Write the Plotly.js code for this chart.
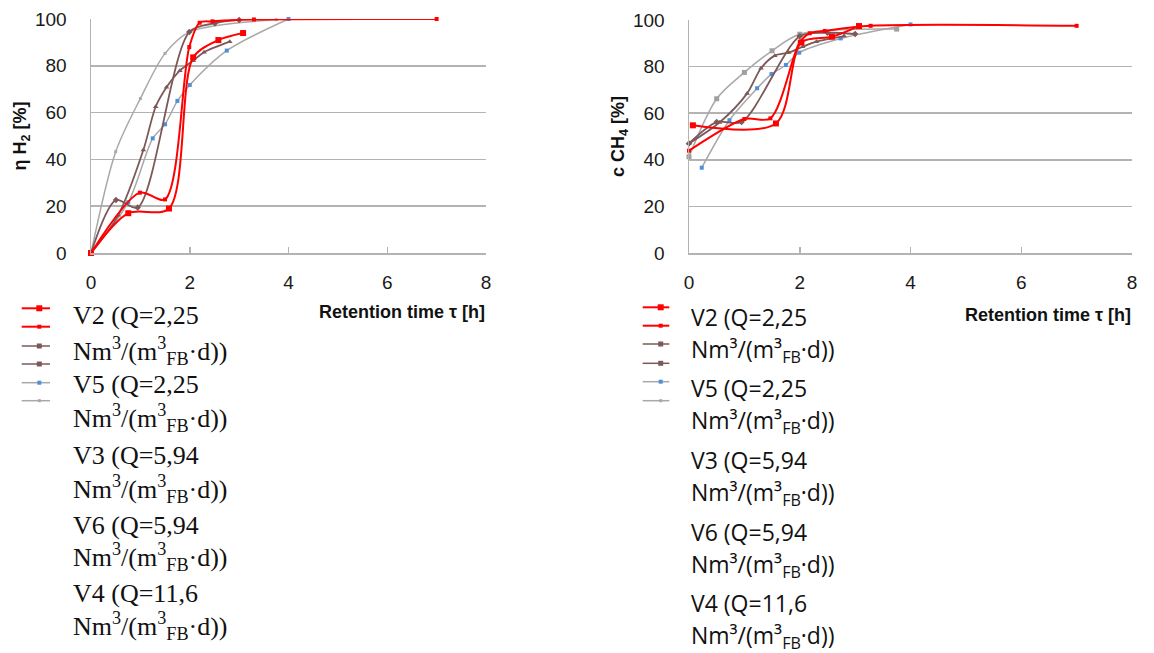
<!DOCTYPE html>
<html><head><meta charset="utf-8">
<script src="https://cdn.plot.ly/plotly-3.0.1.min.js"></script>
<style>html,body{margin:0;padding:0;background:#fff}#chart{width:1154px;height:653px}</style>
</head><body><div id="chart"></div>
<script>
// ---------- Left chart: η H2 [%] ----------
const h2RedSqT   = [0, 0.755, 1.58, 2.07, 2.58, 3.08];
const h2RedSqV   = [0, 17, 19, 83.6, 91, 94];
const h2RedT     = [0, 0.99, 1.5, 1.99, 2.2, 2.46, 3.3, 7];
const h2RedV     = [0, 25.8, 22.9, 88, 98.4, 99, 99.8, 100];
const h2Brown1T  = [0, 0.55, 1.06, 1.31, 1.53, 1.8, 2.07, 2.29, 2.81];
const h2Brown1V  = [0, 16.1, 44, 62.5, 70.8, 77.9, 82.2, 85.8, 90.3];
const h2Brown2T  = [0, 0.506, 0.945, 1.99, 2.51, 3.0];
const h2Brown2V  = [0, 22.6, 19.4, 94.4, 98.2, 99.6];
const h2BlueT    = [0, 0.755, 1.25, 1.5, 1.75, 2.0, 2.75, 4.0];
const h2BlueV    = [0, 21.7, 49, 55, 65, 71.8, 86.5, 100];
const h2GrayT    = [0, 0.5, 1.0, 1.5, 2.0, 3.75];
const h2GrayV    = [0, 43.3, 66, 85.3, 94.5, 99.7];

// ---------- Right chart: c CH4 [%] ----------
const chRedSqT   = [0.07, 1.57, 2.03, 2.58, 3.07];
const chRedSqV   = [54.8, 55.6, 90.4, 92.8, 97.4];
const chRedT     = [0, 1.0, 1.47, 2.0, 2.18, 2.45, 3.28, 7];
const chRedV     = [43.9, 57.5, 57.8, 90.5, 94.3, 95.3, 97.5, 97.5];
const chBrown1T  = [0, 0.55, 1.05, 1.3, 1.55, 1.8, 2.05, 2.3, 2.8];
const chBrown1V  = [47, 56, 68.5, 79.3, 84.7, 86, 88.5, 90.7, 93.1];
const chBrown2T  = [0, 0.5, 0.95, 2.0, 2.5, 3.0];
const chBrown2V  = [47, 56.2, 56.2, 93, 94.5, 94];
const chBlueT    = [0.23, 0.73, 1.23, 1.49, 1.75, 1.99, 2.74, 4.0];
const chBlueV    = [36.6, 57, 70.7, 76.8, 80.7, 86, 92.1, 98.1];
const chGrayT    = [0, 0.5, 1.0, 1.5, 2.0, 3.75];
const chGrayV    = [41.3, 66.2, 77.5, 86.8, 93.9, 96.1];

// ---------- Axis / legend text ----------
const xTicks = [0, 2, 4, 6, 8];
const yTicks = [0, 20, 40, 60, 80, 100];
const xTitle = 'Retention time τ [h]';
const yTitleLeft = 'η H<sub>2</sub> [%]';
const yTitleRight = 'c CH<sub>4</sub> [%]';
const legendLinesLeft = [
  'V2 (Q=2,25', 'Nm<sup>3</sup>/(m<sup>3</sup><sub>FB</sub>·d))',
  'V5 (Q=2,25', 'Nm<sup>3</sup>/(m<sup>3</sup><sub>FB</sub>·d))',
  'V3 (Q=5,94', 'Nm<sup>3</sup>/(m<sup>3</sup><sub>FB</sub>·d))',
  'V6 (Q=5,94', 'Nm<sup>3</sup>/(m<sup>3</sup><sub>FB</sub>·d))',
  'V4 (Q=11,6', 'Nm<sup>3</sup>/(m<sup>3</sup><sub>FB</sub>·d))'
];
const legendLinesRight = [
  'V2 (Q=2,25', 'Nm³/(m³<sub>FB</sub>·d))',
  'V5 (Q=2,25', 'Nm³/(m³<sub>FB</sub>·d))',
  'V3 (Q=5,94', 'Nm³/(m³<sub>FB</sub>·d))',
  'V6 (Q=5,94', 'Nm³/(m³<sub>FB</sub>·d))',
  'V4 (Q=11,6', 'Nm³/(m³<sub>FB</sub>·d))'
];

// ---------- Styles ----------
const RED = '#FF0000', BROWN = '#7D5858', GRAYL = '#A8A8A8', BLUE = '#4F8FD8', GRID = '#B3B3B3';
const W = 1154, H = 653;
const px = x => x / W, py = y => 1 - y / H;

function tr(x, y, xa, ya, color, width, msym, msize, mcolor, name) {
  return {
    type: 'scatter', mode: 'lines+markers', x: x, y: y, xaxis: xa, yaxis: ya, name: name,
    line: {color: color, width: width, shape: 'spline', smoothing: 0.85},
    marker: {symbol: msym, size: msize, color: mcolor || color},
    cliponaxis: false, showlegend: false, hoverinfo: 'x+y'
  };
}

const data = [
  tr(h2GrayT, h2GrayV, 'x', 'y', GRAYL, 1.5, 'square', 3, GRAYL, 'V4'),
  tr(h2BlueT, h2BlueV, 'x', 'y', GRAYL, 1.5, 'square', 4, BLUE, 'V6'),
  tr(h2Brown1T, h2Brown1V, 'x', 'y', BROWN, 1.8, 'triangle-up', 5, BROWN, 'V3a'),
  tr(h2Brown2T, h2Brown2V, 'x', 'y', BROWN, 1.8, 'diamond', 5, BROWN, 'V3b'),
  tr(h2RedT, h2RedV, 'x', 'y', RED, 2, 'square', 4, RED, 'V5'),
  tr(h2RedSqT, h2RedSqV, 'x', 'y', RED, 2, 'square', 6, RED, 'V2'),

  tr(chGrayT, chGrayV, 'x2', 'y2', GRAYL, 1.5, 'square', 5, '#A0A0A0', 'V4'),
  tr(chBlueT, chBlueV, 'x2', 'y2', GRAYL, 1.5, 'square', 4, BLUE, 'V6'),
  tr(chBrown1T, chBrown1V, 'x2', 'y2', BROWN, 1.8, 'triangle-up', 5, BROWN, 'V3a'),
  tr(chBrown2T, chBrown2V, 'x2', 'y2', BROWN, 1.8, 'diamond', 5, BROWN, 'V3b'),
  tr(chRedT, chRedV, 'x2', 'y2', RED, 2, 'square', 4, RED, 'V5'),
  tr(chRedSqT, chRedSqV, 'x2', 'y2', RED, 2, 'square', 6, RED, 'V2')
];

const tickFont = {family: 'Liberation Sans, Arial, sans-serif', size: 19, color: '#1a1a1a'};
const titleFont = {family: 'Liberation Sans, Arial, sans-serif', size: 18, color: '#111', weight: 'bold'};

function xAxis(domain, anchor) {
  return {domain: domain, anchor: anchor, range: [0, 8], tickvals: xTicks, ticktext: xTicks.map(String),
    showgrid: false, zeroline: false, showline: true, linecolor: GRID, linewidth: 1.5,
    ticks: 'inside', ticklen: 6, tickcolor: GRID, tickwidth: 1.5, ticklabelstandoff: 12,
    tickfont: tickFont, fixedrange: true};
}
function yAxis(domain, anchor, title) {
  return {domain: domain, anchor: anchor, range: [0, 100], tickvals: yTicks, ticktext: yTicks.map(String),
    showgrid: true, gridcolor: GRID, gridwidth: 1.5, zeroline: false, showline: true, linecolor: GRID, linewidth: 1.5,
    ticks: '', ticklabelstandoff: 19, tickfont: tickFont, fixedrange: true,
    title: {text: title, font: titleFont, standoff: 3}};
}

const shapes = [];
const annotations = [];

// legend swatches (decorative key)
const swLeft = [[RED, 6], [RED, 4], [BROWN, 5], [BROWN, 5], [GRAYL, 4], [GRAYL, 3]];
const swMarkColors = [RED, RED, BROWN, BROWN, BLUE, GRAYL];
const swYLeft = [308.3, 326.7, 346, 364, 382.7, 400.7];
const swYRight = [307.3, 325.7, 344, 363.3, 381.7, 400.7];
function addSwatches(x0, x1, xm, ys) {
  ys.forEach((y, i) => {
    const c = swLeft[i][0], s = swLeft[i][1] / 2;
    shapes.push({type: 'line', xref: 'paper', yref: 'paper', x0: px(x0), x1: px(x1), y0: py(y), y1: py(y),
      line: {color: c, width: c === RED ? 2 : 1.5}});
    shapes.push({type: 'rect', xref: 'paper', yref: 'paper', x0: px(xm - s), x1: px(xm + s), y0: py(y - s), y1: py(y + s),
      fillcolor: swMarkColors[i], line: {width: 0}});
  });
}
addSwatches(21.7, 50, 39.3, swYLeft);
addSwatches(642.7, 669.3, 660.7, swYRight);

// legend text
const ltYLeft = [315.8, 351, 384, 417.5, 455.8, 489, 525.7, 557.3, 593.3, 625.7];
const ltYRight = [316.7, 350, 388.3, 421.7, 460, 493.3, 531.7, 565, 603.3, 636.7];
legendLinesLeft.forEach((t, i) => annotations.push({
  text: t, xref: 'paper', yref: 'paper', x: px(70.7), y: py(ltYLeft[i]), xanchor: 'left', yanchor: 'middle',
  showarrow: false, font: {family: 'Liberation Serif, Times New Roman, serif', size: 26, color: '#111'}
}));
legendLinesRight.forEach((t, i) => annotations.push({
  text: t, xref: 'paper', yref: 'paper', x: px(689.3), y: py(ltYRight[i]), xanchor: 'left', yanchor: 'middle',
  showarrow: false, font: {family: 'Open Sans, sans-serif', size: 23, color: '#111'}
}));
// x-axis titles
annotations.push({text: xTitle, xref: 'paper', yref: 'paper', x: px(401.5), y: py(311.7), xanchor: 'center', yanchor: 'middle',
  showarrow: false, font: titleFont});
annotations.push({text: xTitle, xref: 'paper', yref: 'paper', x: px(1048), y: py(315), xanchor: 'center', yanchor: 'middle',
  showarrow: false, font: titleFont});

const layout = {
  width: W, height: H, margin: {l: 0, r: 0, t: 0, b: 0},
  paper_bgcolor: '#fff', plot_bgcolor: '#fff', showlegend: false,
  xaxis: xAxis([px(91), px(486)], 'y'),
  yaxis: yAxis([py(253), py(19)], 'x', yTitleLeft),
  xaxis2: xAxis([px(689), px(1132)], 'y2'),
  yaxis2: yAxis([py(253), py(20)], 'x2', yTitleRight),
  shapes: shapes, annotations: annotations
};

Plotly.newPlot('chart', data, layout, {displayModeBar: false, staticPlot: true});
</script></body></html>
